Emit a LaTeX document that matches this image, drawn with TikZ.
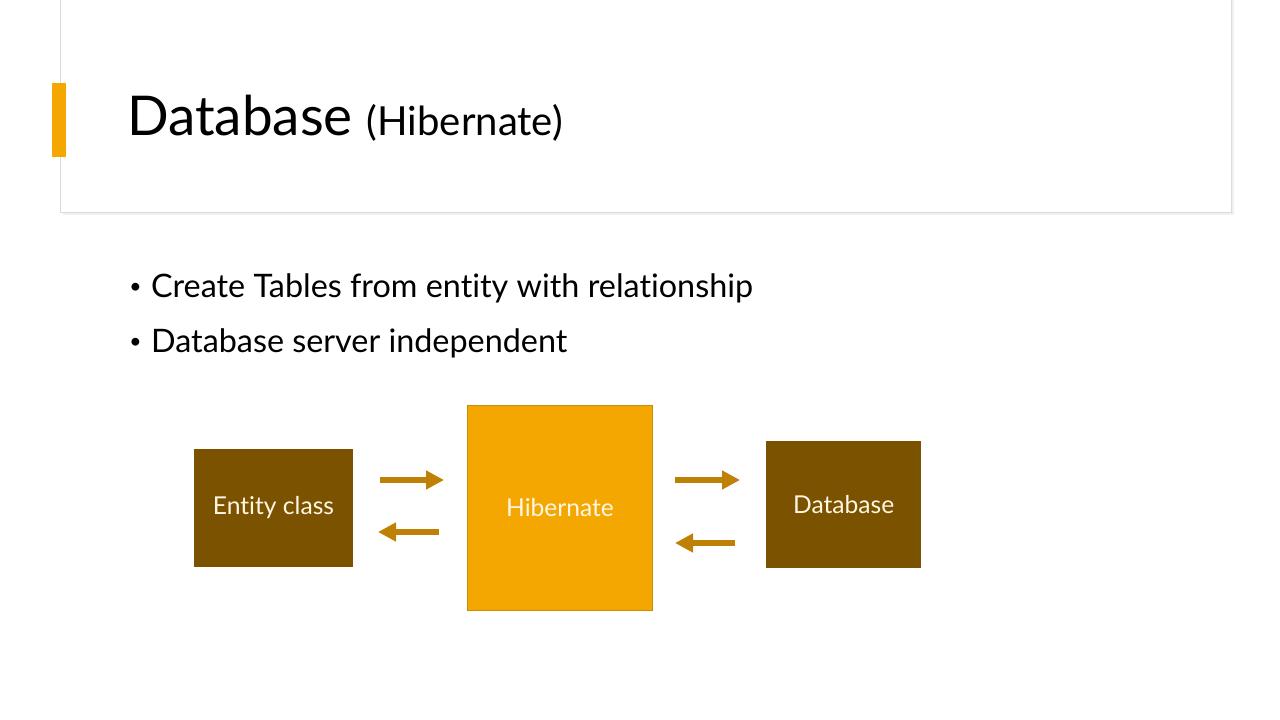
\documentclass[tikz,border=0pt]{standalone}
\usepackage{fontspec}
\setmainfont{Lato}[Ligatures={NoCommon}]
\usetikzlibrary{arrows.meta,positioning}

\definecolor{brownbox}{RGB}{123,83,0}
\definecolor{goldbox}{RGB}{244,167,0}
\definecolor{goldline}{RGB}{200,140,10}
\definecolor{flowcol}{RGB}{190,128,5}
\definecolor{creamtext}{RGB}{255,246,228}

\newcommand{\dotmark}{\makebox[15.5pt][l]{\raisebox{3.5pt}{\fontsize{15}{15}\selectfont\textbullet}}}

\begin{document}
\begin{tikzpicture}[x=0.025cm,y=-0.025cm,
                    flow/.style={-{Triangle[length=12.8pt,width=12.8pt]},line width=4.3pt,draw=flowcol},
                    node distance=81pt]
  \tikzstyle{brown box}=[rectangle,fill=brownbox,text=creamtext,inner sep=0pt,
                         font=\fontsize{17.5}{21}\selectfont]
  \tikzstyle{gold box}=[rectangle,fill=goldbox,draw=goldline,line width=0.6pt,text=creamtext,
                        inner sep=0pt,font=\fontsize{17.5}{21}\selectfont]
  \tikzstyle{bullet line}=[anchor=base west,inner sep=0pt,font=\fontsize{23}{28}\selectfont]

  \useasboundingbox[fill=white] (0,0) rectangle (1280,720);

  % title panel
  \fill[black!6] (63,-5) rectangle (1234,215);
  \draw[black!14,fill=white] (60,-5) rectangle (1231,212);
  \fill[goldbox] (52,83) rectangle (66,157);
  \node[anchor=base west,inner sep=0pt] (title) at (127,136)
       {\fontsize{39}{46}\selectfont Database \fontsize{28.5}{34}\selectfont(Hibernate)};

  % bullets
  \node[bullet line] (b1) at (129,298) {\dotmark Create Tables from entity with relationship};
  \node[bullet line] (b2) at (129,353) {\dotmark Database server independent};

  % boxes
  \node[brown box,minimum width=113pt,minimum height=84pt] (entity) at (273.5,508) {Entity class};
  \node[gold box,minimum width=131.5pt,minimum height=145.8pt] (hib) [right=81pt of entity] {Hibernate};
  \node[brown box,minimum width=110pt,minimum height=90.3pt] (db) [right=80.5pt of hib,yshift=2.5pt] {Database};

  % arrow ends
  \coordinate (e1) at (380,480);  \coordinate (h1) at (444,480);
  \coordinate (h2) at (439,532);  \coordinate (e2) at (378,532);
  \coordinate (h3) at (675,480);  \coordinate (d3) at (740,480);
  \coordinate (d4) at (735,543);  \coordinate (h4) at (675,543);

  \path (e1) edge[flow] (h1)
        (h2) edge[flow] (e2)
        (h3) edge[flow] (d3)
        (d4) edge[flow] (h4);
\end{tikzpicture}
\end{document}
